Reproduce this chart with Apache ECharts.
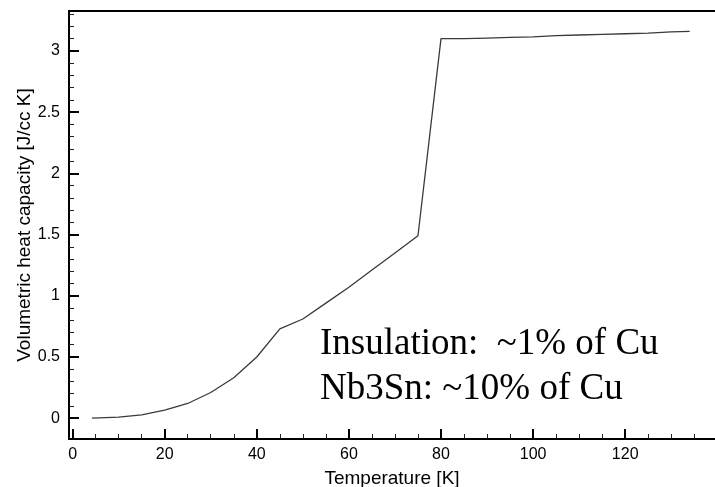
<!DOCTYPE html>
<html>
<head>
<meta charset="utf-8">
<script src="https://cdn.jsdelivr.net/npm/echarts@6/dist/echarts.min.js"></script>
<style>
  html, body { margin: 0; padding: 0; background: #fff; }
  #chart { width: 715px; height: 487px; }
</style>
</head>
<body>
<div id="chart"></div>
<script>
// temperature [K] and volumetric heat capacity [J/cc K]
var temps = [4.2, 10, 15, 20, 25, 30, 35, 40, 45, 50, 55, 60, 65, 70, 75, 80, 85, 90, 95, 100, 105, 110, 115, 120, 125, 130, 134]
var heatCap = [0, 0.008, 0.027, 0.065, 0.12, 0.21, 0.33, 0.50, 0.73, 0.81, 0.94, 1.07, 1.21, 1.35, 1.49, 3.10, 3.10, 3.105, 3.11, 3.115, 3.125, 3.13, 3.135, 3.14, 3.145, 3.155, 3.16]

// tick positions
var xMajor = [0, 20, 40, 60, 80, 100, 120]
var xMinor = [5, 10, 15, 25, 30, 35, 45, 50, 55, 65, 70, 75, 85, 90, 95, 105, 110, 115, 125, 130, 135]
var yMajor = [0, 0.5, 1, 1.5, 2, 2.5, 3]
var yMinor = [0.1, 0.2, 0.3, 0.4, 0.6, 0.7, 0.8, 0.9, 1.1, 1.2, 1.3, 1.4, 1.6, 1.7, 1.8, 1.9,
  2.1, 2.2, 2.3, 2.4, 2.6, 2.7, 2.8, 2.9, 3.1, 3.2, 3.3]

var notes = ['Insulation:  ~1% of Cu', 'Nb3Sn: ~10% of Cu']

var data = temps.map(function (t, i) { return [t, heatCap[i]] })

var chart = echarts.init(document.getElementById('chart'))

var xBase = { type: 'value', min: -0.78, max: 139.5, position: 'bottom', splitLine: { show: false } }
var yBase = { type: 'value', min: -0.17, max: 3.326, position: 'left', splitLine: { show: false } }
var hiddenLine = { show: true, onZero: false, lineStyle: { color: 'rgba(0,0,0,0)', width: 1 } }
var spine = { show: true, onZero: false, lineStyle: { color: '#000', width: 2 } }
var labelFont = { fontFamily: 'Liberation Sans', fontSize: 16, color: '#000' }
var nameFont = { fontFamily: 'Liberation Sans', fontSize: 19, color: '#000' }

chart.setOption({
  animation: false,
  grid: {
    left: 69, top: 11, right: 0, bottom: 48,
    outerBoundsMode: 'none'
  },
  xAxis: [
    Object.assign({}, xBase, {
      name: 'Temperature [K]',
      nameLocation: 'middle',
      nameGap: 30,
      nameMoveOverlap: false,
      nameTextStyle: nameFont,
      axisLine: spine,
      axisTick: { show: true, inside: true, length: 10, lineStyle: { color: '#000', width: 2 }, customValues: xMajor },
      axisLabel: Object.assign({ customValues: xMajor, margin: 8 }, labelFont)
    }),
    Object.assign({}, xBase, {
      axisLine: hiddenLine,
      axisTick: { show: true, inside: true, length: 5, lineStyle: { color: '#222', width: 1 }, customValues: xMinor },
      axisLabel: { show: false }
    }),
    Object.assign({}, xBase, {
      position: 'top',
      axisLine: spine,
      axisTick: { show: false },
      axisLabel: { show: false }
    })
  ],
  yAxis: [
    Object.assign({}, yBase, {
      name: 'Volumetric heat capacity [J/cc K]',
      nameLocation: 'middle',
      nameGap: 35,
      nameMoveOverlap: false,
      nameTextStyle: nameFont,
      axisLine: spine,
      axisTick: { show: true, inside: true, length: 10, lineStyle: { color: '#000', width: 2 }, customValues: yMajor },
      axisLabel: Object.assign({ customValues: yMajor, margin: 9 }, labelFont)
    }),
    Object.assign({}, yBase, {
      axisLine: hiddenLine,
      axisTick: { show: true, inside: true, length: 5, lineStyle: { color: '#222', width: 1 }, customValues: yMinor },
      axisLabel: { show: false }
    })
  ],
  graphic: [
    {
      type: 'text',
      left: 320,
      top: 326,
      style: { text: notes[0], font: '37px "Liberation Serif"', fill: '#000' }
    },
    {
      type: 'text',
      left: 320,
      top: 371,
      style: { text: notes[1], font: '37px "Liberation Serif"', fill: '#000' }
    }
  ],
  series: [
    {
      type: 'line',
      xAxisIndex: 0,
      yAxisIndex: 0,
      data: data,
      showSymbol: false,
      symbol: 'none',
      lineStyle: { color: '#3a3a3a', width: 1.3 }
    }
  ]
})
</script>
</body>
</html>
